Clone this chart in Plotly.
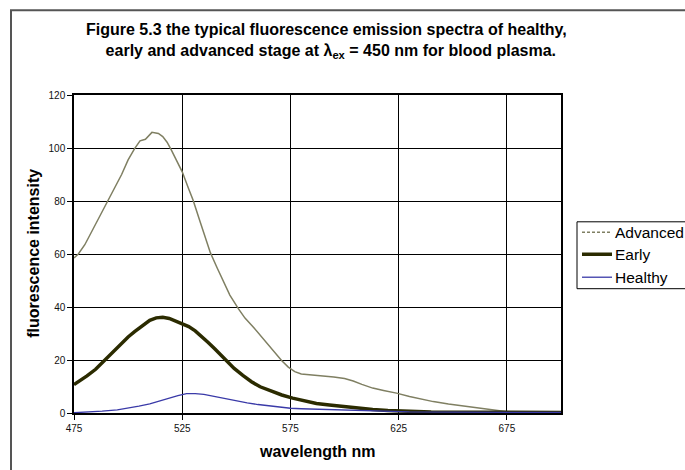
import plotly.graph_objects as go

# Emission spectra (wavelength in nm, fluorescence intensity in a.u.)
wl_advanced = [475, 477, 480, 484, 488, 491, 494, 497, 500, 503, 505.5, 508, 511, 514, 516,
               518, 520, 522, 525, 528, 530, 533, 536, 538, 541, 544, 547, 551, 554, 558,
               562, 567, 571, 574, 577, 580, 585, 590, 595, 600, 604, 608, 613, 618, 624,
               630, 635, 641, 648, 656, 664, 671, 676, 685, 700]
advanced = [58.5, 60.0, 63.5, 69.8, 76.0, 80.5, 85.0, 90.0, 95.5, 99.8, 102.7, 103.3, 105.9, 105.5, 104.3,
            102.2, 99.2, 96.0, 91.0, 84.5, 80.4, 72.8, 65.0, 60.5, 55.0, 50.0, 44.5, 39.3, 35.8, 32.3,
            28.3, 23.5, 19.7, 17.3, 15.6, 14.7, 14.4, 14.1, 13.6, 13.0, 12.1, 10.8, 9.4, 8.5, 7.5,
            6.2, 5.3, 4.3, 3.4, 2.5, 1.7, 1.0, 0.4, 0.2, 0.2]

wl_early = [475, 478, 481, 485, 489, 493, 496, 500, 503, 507, 510, 513, 516, 519, 522,
            525, 528, 531, 534, 537, 540, 543, 546, 549, 553, 557, 561, 566, 571, 576,
            581, 587, 593, 599, 606, 613, 620, 628, 640, 660, 680, 700]
early = [10.7, 12.3, 14.0, 16.5, 19.8, 23.0, 25.8, 28.7, 30.7, 33.2, 35.0, 35.9, 36.1, 35.7, 34.7,
         33.8, 32.6, 31.0, 29.0, 26.6, 24.2, 21.8, 19.3, 16.8, 14.2, 11.8, 9.9, 8.2, 6.8, 5.6,
         4.6, 3.6, 3.0, 2.4, 1.8, 1.3, 0.9, 0.6, 0.4, 0.3, 0.2, 0.2]

wl_healthy = [475, 480, 488, 495, 500, 505, 510, 515, 519, 523, 527, 531, 535, 540, 545,
              550, 555, 560, 565, 570, 575, 580, 590, 600, 610, 620, 630, 650, 700]
healthy = [0.1, 0.3, 0.7, 1.2, 1.8, 2.6, 3.4, 4.6, 5.7, 6.6, 7.3, 7.3, 7.0, 6.2, 5.4,
           4.5, 3.8, 3.2, 2.7, 2.2, 1.8, 1.6, 1.4, 1.2, 0.9, 0.6, 0.4, 0.3, 0.2]

x_ticks = [475, 525, 575, 625, 675]
y_ticks = [0, 20, 40, 60, 80, 100, 120]

series_names = ["Advanced", "Early", "Healthy"]

C_ADV = "#7f7f62"
C_EARLY = "#2b2b00"
C_HEALTHY = "#3a3aa8"

FONT = "Liberation Sans, Arial, sans-serif"

fig = go.Figure()

fig.add_trace(go.Scatter(x=wl_advanced, y=advanced, mode="lines", name=series_names[0],
                         line=dict(color=C_ADV, width=1.5)))
fig.add_trace(go.Scatter(x=wl_early, y=early, mode="lines", name=series_names[1],
                         line=dict(color=C_EARLY, width=3.5)))
fig.add_trace(go.Scatter(x=wl_healthy, y=healthy, mode="lines", name=series_names[2],
                         line=dict(color=C_HEALTHY, width=1.3)))

L, R, T, B = 74, 124, 95, 56.5
W, H = 685, 470
pw, ph = W - L - R, H - T - B

def px_x(p):
    return (p - L) / pw

def px_y(p):
    return (H - B - p) / ph

axis_common = dict(
    showline=True, linecolor="black", linewidth=1.5, mirror=True,
    showgrid=True, gridcolor="black", gridwidth=1.3,
    zeroline=False, ticks="outside", ticklen=5, tickcolor="black", tickwidth=1,
    tickfont=dict(family=FONT, size=10, color="#111111"),
)

fig.update_layout(
    width=W, height=H,
    margin=dict(l=L, r=R, t=T, b=B, pad=0, autoexpand=False),
    paper_bgcolor="white", plot_bgcolor="white",
    font=dict(family=FONT, color="black"),
    xaxis=dict(range=[475, 700], tickmode="array", tickvals=x_ticks, **axis_common),
    yaxis=dict(range=[0, 120], tickmode="array", tickvals=y_ticks, **axis_common),
    showlegend=False,
)

# chart title
fig.add_annotation(
    xref="paper", yref="paper", x=px_x(326), y=px_y(41), xanchor="center", yanchor="middle",
    text="<b>Figure 5.3 the typical fluorescence emission spectra of healthy,</b><br>"
         "<b>  early and advanced stage at λ<sub>ex</sub> = 450 nm for blood plasma.</b>",
    showarrow=False, align="center", font=dict(family=FONT, size=16, color="black"),
)

# axis titles
fig.add_annotation(
    xref="paper", yref="paper", x=px_x(317.5), y=px_y(452), xanchor="center", yanchor="middle",
    text="<b>wavelength nm</b>", showarrow=False, font=dict(family=FONT, size=16, color="black"),
)
fig.add_annotation(
    xref="paper", yref="paper", x=px_x(34), y=px_y(254), xanchor="center", yanchor="middle",
    text="<b>fluorescence intensity</b>", textangle=-90, showarrow=False,
    font=dict(family=FONT, size=16, color="black"),
)

# legend box, key lines and labels
fig.add_shape(type="rect", xref="paper", yref="paper",
              x0=px_x(577), x1=px_x(720), y0=px_y(289), y1=px_y(222),
              line=dict(color="black", width=1), fillcolor="white")
legend_rows = [(series_names[0], C_ADV, 1.5, "3px,2px", 232.5),
               (series_names[1], C_EARLY, 3.5, "solid", 254.5),
               (series_names[2], C_HEALTHY, 1.3, "solid", 277.5)]
for name, color, width, dash, ypx in legend_rows:
    fig.add_shape(type="line", xref="paper", yref="paper",
                  x0=px_x(582), x1=px_x(612), y0=px_y(ypx), y1=px_y(ypx),
                  line=dict(color=color, width=width, dash=dash))
    fig.add_annotation(xref="paper", yref="paper", x=px_x(613), y=px_y(ypx),
                       xanchor="left", yanchor="middle", text=name, showarrow=False,
                       font=dict(family=FONT, size=15.5, color="black"))

# outer frame around the chart
fig.add_shape(type="rect", xref="paper", yref="paper",
              x0=px_x(11), x1=px_x(760), y0=px_y(10), y1=px_y(520),
              line=dict(color="#555555", width=2), fillcolor="rgba(0,0,0,0)", layer="below")

fig.write_html("out.html")
